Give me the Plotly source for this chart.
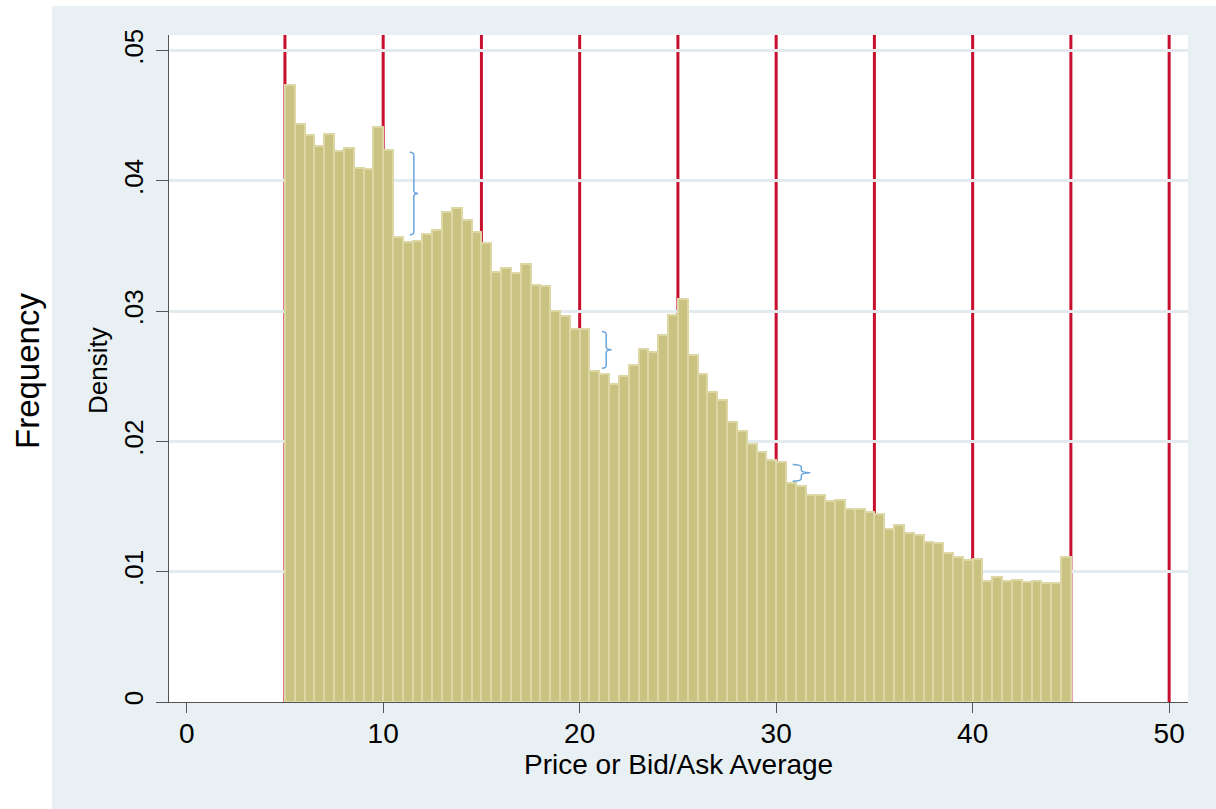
import plotly.graph_objects as go

# ---- data ----
bin_start = 5.0
bin_width = 0.5
density = [
    0.0474, 0.0444, 0.0435, 0.0427, 0.0436, 0.0423, 0.0425, 0.0410, 0.0409, 0.0441,
    0.0424, 0.0357, 0.0353, 0.0354, 0.0359, 0.0362, 0.0376, 0.0379, 0.0370, 0.0361,
    0.0352, 0.0330, 0.0333, 0.0329, 0.0336, 0.0320, 0.0319, 0.0300, 0.0296, 0.0286,
    0.0286, 0.0254, 0.0252, 0.0244, 0.0250, 0.0259, 0.0271, 0.0269, 0.0282, 0.0297,
    0.0309, 0.0266, 0.0252, 0.0238, 0.0232, 0.0215, 0.0208, 0.0198, 0.0192, 0.0186,
    0.0184, 0.0168, 0.0166, 0.0159, 0.0159, 0.0154, 0.0155, 0.0148, 0.0148, 0.0146,
    0.0144, 0.0133, 0.0136, 0.0130, 0.0128, 0.0123, 0.0122, 0.0114, 0.0111, 0.0109,
    0.0110, 0.0093, 0.0096, 0.0093, 0.0094, 0.0092, 0.0093, 0.0091, 0.0091, 0.0111,
]
bin_centers = [bin_start + bin_width * (i + 0.5) for i in range(len(density))]

ref_lines_x = [5, 10, 15, 20, 25, 30, 35, 40, 45, 50]

x_tickvals = [0, 10, 20, 30, 40, 50]
x_ticktext = ["0", "10", "20", "30", "40", "50"]
y_tickvals = [0, 0.01, 0.02, 0.03, 0.04, 0.05]
y_ticktext = ["0", ".01", ".02", ".03", ".04", ".05"]

# braces: (x_end, x_mid, x_tip, y_top, y_bottom)
braces = [
    (11.35, 11.56, 11.78, 0.0422, 0.03587),
    (21.13, 21.35, 21.62, 0.02844, 0.02562),
    (30.84, 31.28, 31.74, 0.01823, 0.01695),
]

FONT = "Arial, 'Liberation Sans', sans-serif"
PANEL = "#e8f0f3"

fig = go.Figure()
fig.add_trace(go.Bar(
    x=bin_centers, y=density, width=bin_width,
    marker=dict(color="#c9c280", line=dict(color="#ddd7a6", width=2)),
    hoverinfo="x+y", showlegend=False,
))

shapes = []
L, R, T, B = 169, 1188, 35, 702
W, H = R - L, B - T
# white strips outside the grey panel (left and top)
shapes.append(dict(type="rect", xref="paper", yref="paper",
                   x0=(0 - L) / W, x1=(52 - L) / W, y0=(B - 809) / H, y1=(B - 0) / H,
                   fillcolor="white", line=dict(width=0), layer="below"))
shapes.append(dict(type="rect", xref="paper", yref="paper",
                   x0=(0 - L) / W, x1=(1216 - L) / W, y0=(B - 6) / H, y1=(B - 0) / H,
                   fillcolor="white", line=dict(width=0), layer="below"))
for xv in ref_lines_x:
    shapes.append(dict(type="line", xref="x", yref="paper", x0=xv, x1=xv, y0=0, y1=1,
                       line=dict(color="#c8102e", width=3), layer="between"))

ry = 0.00023
for (xe, xm, xt, yt, yb) in braces:
    ymid = (yt + yb) / 2
    path = (f"M {xe},{yt} Q {xm},{yt} {xm},{yt - ry} "
            f"L {xm},{ymid + ry} Q {xm},{ymid} {xt},{ymid} "
            f"M {xt},{ymid} Q {xm},{ymid} {xm},{ymid - ry} "
            f"L {xm},{yb + ry} Q {xm},{yb} {xe},{yb}")
    shapes.append(dict(type="path", xref="x", yref="y", path=path,
                       line=dict(color="#6aa6dc", width=1.5), layer="above"))

annotations = [
    dict(text="Frequency", x=(27 - L) / W, y=(B - 371) / H, xref="paper", yref="paper",
         textangle=-90, showarrow=False, xanchor="center", yanchor="middle",
         font=dict(size=33, color="black", family=FONT)),
    dict(text="Density", x=(98 - L) / W, y=(B - 371) / H, xref="paper", yref="paper",
         textangle=-90, showarrow=False, xanchor="center", yanchor="middle",
         font=dict(size=26, color="black", family=FONT)),
    dict(text="Price or Bid/Ask Average", x=0.5, y=(B - 764) / H, xref="paper", yref="paper",
         showarrow=False, xanchor="center", yanchor="middle",
         font=dict(size=28, color="black", family=FONT)),
]

fig.update_layout(
    width=1216, height=809,
    margin=dict(l=L, r=1216 - R, t=T, b=809 - B, pad=0),
    paper_bgcolor=PANEL, plot_bgcolor="white",
    bargap=0,
    shapes=shapes, annotations=annotations,
    font=dict(family=FONT, color="black"),
    xaxis=dict(range=[-0.9, 50.96], tickvals=x_tickvals, ticktext=x_ticktext,
               showgrid=False, zeroline=False, showline=True, linecolor="#555555", linewidth=1,
               ticks="outside", ticklen=10, tickcolor="#555555", tickwidth=1,
               tickfont=dict(size=28, color="black"), ticklabelstandoff=-4),
    yaxis=dict(range=[0, 0.0512], tickvals=y_tickvals, ticktext=y_ticktext,
               showgrid=True, gridcolor="#e3ebef", gridwidth=2.5, zeroline=False,
               showline=True, linecolor="#555555", linewidth=1,
               ticks="outside", ticklen=12, tickcolor="#555555", tickwidth=1,
               tickangle=-90, tickfont=dict(size=26, color="black"), ticklabelstandoff=3),
)

fig.write_html("out.html")
